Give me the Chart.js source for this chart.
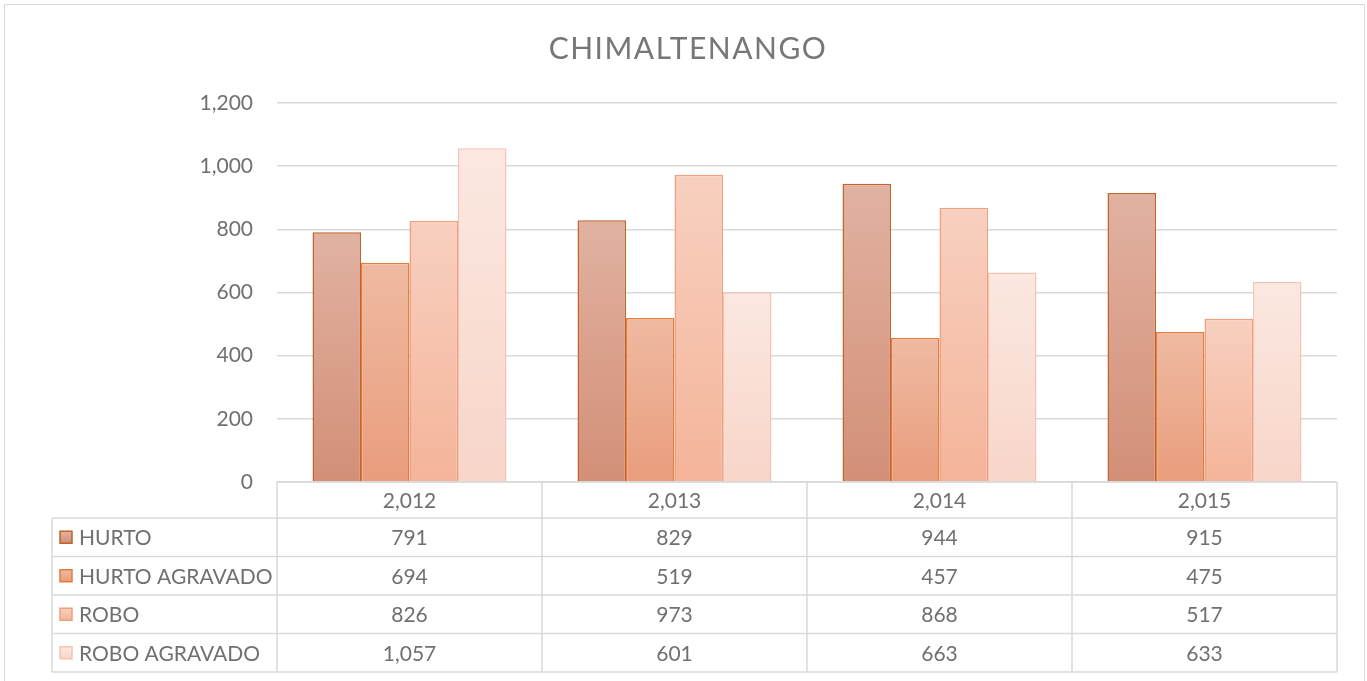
<!DOCTYPE html>
<html>
<head>
<meta charset="utf-8">
<script src="https://cdn.jsdelivr.net/npm/chart.js@4/dist/chart.umd.min.js"></script>
<style>
  html, body { margin: 0; padding: 0; background: #fff; }
  canvas { display: block; }
</style>
</head>
<body>
<canvas id="chart" width="1367" height="681"></canvas>
<script>
const chartTitle = 'CHIMALTENANGO';
const years = [2012, 2013, 2014, 2015];
const seriesNames = ['HURTO', 'HURTO AGRAVADO', 'ROBO', 'ROBO AGRAVADO'];
const hurto = [791, 829, 944, 915];
const hurtoAgravado = [694, 519, 457, 475];
const robo = [826, 973, 868, 517];
const roboAgravado = [1057, 601, 663, 633];
const yTicks = [0, 200, 400, 600, 800, 1000, 1200];

// top colour, bottom colour, border
const palette = [
  ['#e1b2a1', '#d38f78', '#c0632c'],
  ['#efbaa2', '#e99d7c', '#e47d3c'],
  ['#f8d0bf', '#f4b49a', '#efa07c'],
  ['#fbe8e1', '#f8d5c9', '#f5c3b2']
];

const textGray = '#707070';
const lineGray = '#d9d9d9';
const fontFamily = 'Lato, "Liberation Sans", sans-serif';
const fmt = v => v.toLocaleString('en-US');

const seriesValues = [hurto, hurtoAgravado, robo, roboAgravado];

function barGradient(context, idx) {
  const chart = context.chart;
  const area = chart.chartArea;
  if (!area) return palette[idx][1];
  const y = chart.scales.y;
  const v = context.raw || 0;
  const top = y.getPixelForValue(v);
  const bottom = y.getPixelForValue(0);
  const g = chart.ctx.createLinearGradient(0, top, 0, bottom);
  g.addColorStop(0, palette[idx][0]);
  g.addColorStop(1, palette[idx][1]);
  return g;
}

// frame, title and the data table under the plot
const tablePlugin = {
  id: 'dataTable',
  beforeDraw(chart) {
    const ctx = chart.ctx;
    ctx.save();
    ctx.strokeStyle = lineGray;
    ctx.lineWidth = 1;
    ctx.beginPath();
    ctx.moveTo(4.5, 700);
    ctx.lineTo(4.5, 4.5);
    ctx.lineTo(1364.5, 4.5);
    ctx.lineTo(1364.5, 700);
    ctx.stroke();

    ctx.fillStyle = '#777777';
    ctx.font = '30px ' + fontFamily;
    ctx.letterSpacing = '1.5px';
    ctx.textAlign = 'center';
    ctx.textBaseline = 'middle';
    ctx.fillText(chartTitle, 688, 49);
    ctx.letterSpacing = '0px';
    ctx.restore();
  },
  afterDraw(chart) {
    const ctx = chart.ctx;
    const area = chart.chartArea;
    const n = years.length;
    const colW = (area.right - area.left) / n;
    const headTop = area.bottom;
    const headH = 36;
    const rowH = 38.5;
    const tableLeft = 52;
    const rowsTop = headTop + headH;
    const tableBottom = rowsTop + rowH * seriesNames.length;

    ctx.save();
    ctx.strokeStyle = lineGray;
    ctx.lineWidth = 1.5;
    ctx.beginPath();
    // header top line
    ctx.moveTo(area.left, headTop);
    ctx.lineTo(area.right, headTop);
    // row lines
    for (let r = 0; r <= seriesNames.length; r++) {
      const y = rowsTop + r * rowH;
      ctx.moveTo(tableLeft, y);
      ctx.lineTo(area.right, y);
    }
    // column lines
    for (let c = 0; c <= n; c++) {
      const x = area.left + c * colW;
      ctx.moveTo(x, headTop);
      ctx.lineTo(x, tableBottom);
    }
    ctx.moveTo(tableLeft, rowsTop);
    ctx.lineTo(tableLeft, tableBottom);
    ctx.stroke();

    ctx.fillStyle = textGray;
    ctx.font = '21px ' + fontFamily;
    ctx.textBaseline = 'middle';
    ctx.textAlign = 'center';
    years.forEach((yr, c) => {
      const cx = chart.scales.x.getPixelForValue(c);
      ctx.fillText(fmt(yr), cx, headTop + headH / 2 + 1);
      seriesValues.forEach((vals, r) => {
        ctx.fillText(fmt(vals[c]), cx, rowsTop + r * rowH + rowH / 2 + 1);
      });
    });

    // legend keys + names
    seriesNames.forEach((name, r) => {
      const cy = rowsTop + r * rowH + rowH / 2;
      const g = ctx.createLinearGradient(0, cy - 6, 0, cy + 6);
      g.addColorStop(0, palette[r][0]);
      g.addColorStop(1, palette[r][1]);
      ctx.fillStyle = g;
      ctx.fillRect(60, cy - 6, 12, 12);
      ctx.strokeStyle = palette[r][2];
      ctx.lineWidth = 1.5;
      ctx.strokeRect(60, cy - 6, 12, 12);
      ctx.fillStyle = textGray;
      ctx.textAlign = 'left';
      ctx.fillText(name, 79, cy + 1);
    });
    ctx.restore();
  }
};

new Chart(document.getElementById('chart'), {
  type: 'bar',
  data: {
    labels: years.map(fmt),
    datasets: seriesNames.map((name, i) => ({
      label: name,
      data: seriesValues[i],
      backgroundColor: ctx => barGradient(ctx, i),
      borderColor: palette[i][2],
      borderWidth: 1.5,
      borderSkipped: 'bottom',
      categoryPercentage: 0.732,
      barPercentage: 1
    }))
  },
  options: {
    responsive: false,
    animation: false,
    devicePixelRatio: 1,
    layout: { padding: { left: 0, right: 30, top: 103, bottom: 199 } },
    plugins: {
      legend: { display: false },
      title: { display: false },
      tooltip: { enabled: false }
    },
    scales: {
      x: {
        display: true,
        ticks: { display: false },
        grid: { display: false, drawTicks: false },
        border: { display: false }
      },
      y: {
        min: 0,
        max: 1200,
        afterBuildTicks: scale => { scale.ticks = yTicks.map(v => ({ value: v })); },
        afterFit: scale => { scale.width = 277; },
        ticks: {
          color: textGray,
          font: { family: fontFamily, size: 21 },
          padding: 24,
          callback: v => fmt(v)
        },
        grid: { color: lineGray, lineWidth: 1.5, drawTicks: false },
        border: { display: false }
      }
    }
  },
  plugins: [tablePlugin]
});
</script>
</body>
</html>
